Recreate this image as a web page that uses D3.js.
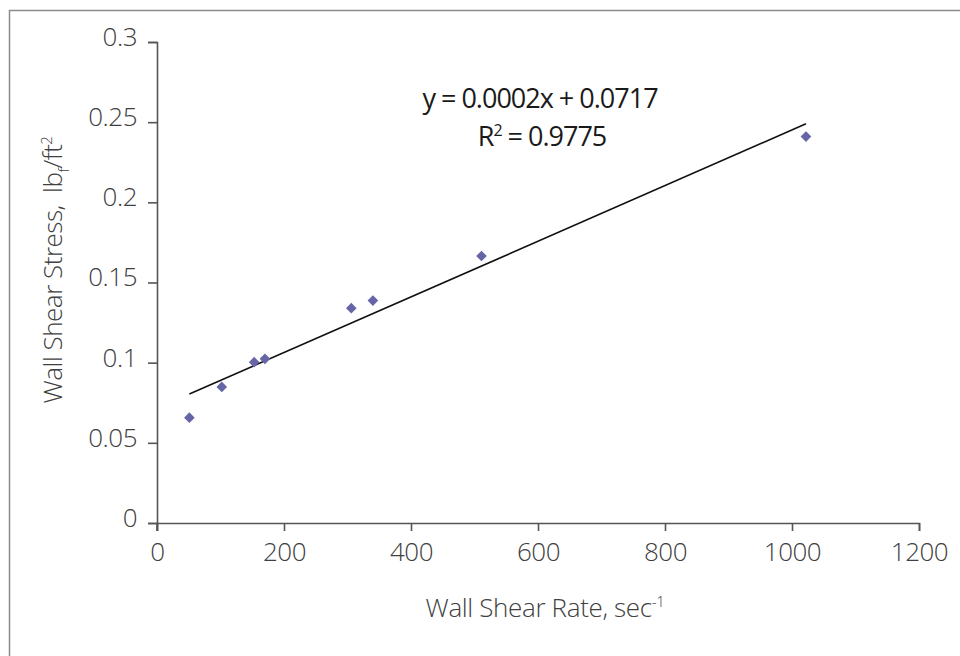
<!DOCTYPE html>
<html>
<head>
<meta charset="utf-8">
<script src="https://cdn.jsdelivr.net/npm/d3@7"></script>
<style>
  body { margin: 0; background: #fff; }
  text { font-family: "Open Sans", sans-serif; }
</style>
</head>
<body>
<div id="chart"></div>
<script>
// data
var shearRate = [51, 102, 153, 170, 306, 340, 511, 1022];
var shearStress = [0.0657, 0.0849, 0.1003, 0.1024, 0.134, 0.1387, 0.1665, 0.241];
var xTicks = [0, 200, 400, 600, 800, 1000, 1200];
var yTicks = [0, 0.05, 0.1, 0.15, 0.2, 0.25, 0.3];
var eqText = "y = 0.0002x + 0.0717";
var r2Text = "0.9775";

var svgWidth = 960;
var svgHeight = 656;

var margin = { top: 42, bottom: 133, right: 41, left: 157 };
var width = svgWidth - margin.left - margin.right;
var height = svgHeight - margin.top - margin.bottom;

var svg = d3.select("#chart")
  .append("svg")
  .attr("width", svgWidth)
  .attr("height", svgHeight);

// outer frame
svg.append("rect")
  .attr("x", 9.5)
  .attr("y", 10.5)
  .attr("width", 1000)
  .attr("height", 800)
  .attr("fill", "none")
  .attr("stroke", "#8c8c8c")
  .attr("stroke-width", 1.5);

var chartGroup = svg.append("g")
  .attr("transform", `translate(${margin.left}, ${margin.top})`);

var xScale = d3.scaleLinear().domain([0, 1200]).range([0, width]);
var yScale = d3.scaleLinear().domain([0, 0.3]).range([height, 0]);

var xAxis = d3.axisBottom(xScale).tickValues(xTicks).tickFormat(d3.format("d"))
  .tickSizeInner(8).tickSizeOuter(8).tickPadding(8);
var yAxis = d3.axisLeft(yScale).tickValues(yTicks).tickFormat(d => String(d))
  .tickSizeInner(9).tickSizeOuter(9).tickPadding(11);

var gx = chartGroup.append("g")
  .attr("transform", `translate(0, ${height})`)
  .call(xAxis);
var gy = chartGroup.append("g")
  .call(yAxis);

// y axis runs a bit below the x axis like the original
gy.append("line")
  .attr("x1", 0).attr("x2", 0)
  .attr("y1", height).attr("y2", height + 8)
  .attr("stroke", "#555")
  .attr("stroke-width", 1.6);

[gx, gy].forEach(function(g) {
  g.select(".domain").attr("stroke", "#555").attr("stroke-width", 1.6);
  g.selectAll(".tick line").attr("stroke", "#555").attr("stroke-width", 1.6);
  g.selectAll(".tick text")
    .attr("fill", "#404040")
    .style("font-size", "26px")
    .style("font-weight", 300)
    .style("letter-spacing", "-0.5px")
    .style("font-family", "'Open Sans', sans-serif");
});
gx.selectAll(".tick text").attr("dy", "0.85em");
gy.selectAll(".tick text").attr("dy", "0.13em");

// linear trendline from least squares of the points
var mx = d3.mean(shearRate), my = d3.mean(shearStress);
var sxy = d3.sum(shearRate, (x, i) => (x - mx) * (shearStress[i] - my));
var sxx = d3.sum(shearRate, x => (x - mx) * (x - mx));
var slope = sxy / sxx;
var intercept = my - slope * mx;
var xExt = d3.extent(shearRate);

chartGroup.append("line")
  .attr("x1", xScale(xExt[0]))
  .attr("y1", yScale(slope * xExt[0] + intercept))
  .attr("x2", xScale(xExt[1]))
  .attr("y2", yScale(slope * xExt[1] + intercept))
  .attr("stroke", "#111")
  .attr("stroke-width", 1.6);

var diamond = d3.symbol().type(d3.symbolDiamond2).size(72);
chartGroup.selectAll("path.pt")
  .data(shearRate)
  .enter()
  .append("path")
  .attr("class", "pt")
  .attr("d", diamond)
  .attr("transform", (d, i) => `translate(${xScale(d)}, ${yScale(shearStress[i])})`)
  .attr("fill", "#6565a8");

// equation labels
svg.append("text")
  .attr("x", 540)
  .attr("y", 108)
  .attr("text-anchor", "middle")
  .attr("fill", "#1a1a1a")
  .style("font-size", "27px")
  .style("letter-spacing", "-1px")
  .text(eqText);

var r2 = svg.append("text")
  .attr("x", 542)
  .attr("y", 146)
  .attr("text-anchor", "middle")
  .attr("fill", "#1a1a1a")
  .style("font-size", "27px")
  .style("letter-spacing", "-1px");
r2.append("tspan").text("R");
r2.append("tspan").attr("dy", -10).style("font-size", "16px").text("2");
r2.append("tspan").attr("dy", 10).text(" = " + r2Text);

// axis titles
var xt = svg.append("text")
  .attr("x", 545)
  .attr("y", 617)
  .attr("text-anchor", "middle")
  .attr("fill", "#404040")
  .style("font-size", "26px")
  .style("font-weight", 300)
  .style("letter-spacing", "-0.35px");
xt.append("tspan").text("Wall Shear Rate, sec");
xt.append("tspan").attr("dy", -10).style("font-size", "15px").text("-1");

var yt = svg.append("text")
  .attr("transform", "translate(62, 270) rotate(-90)")
  .attr("text-anchor", "middle")
  .attr("fill", "#404040")
  .style("font-size", "26px")
  .style("font-weight", 300)
  .style("letter-spacing", "-0.5px");
yt.append("tspan").text("Wall Shear Stress,\u00a0\u00a0lb");
yt.append("tspan").attr("dy", 7).style("font-size", "15px").text("f");
yt.append("tspan").attr("dy", -7).text("/ft");
yt.append("tspan").attr("dy", -10).style("font-size", "15px").text("2");
</script>
</body>
</html>
